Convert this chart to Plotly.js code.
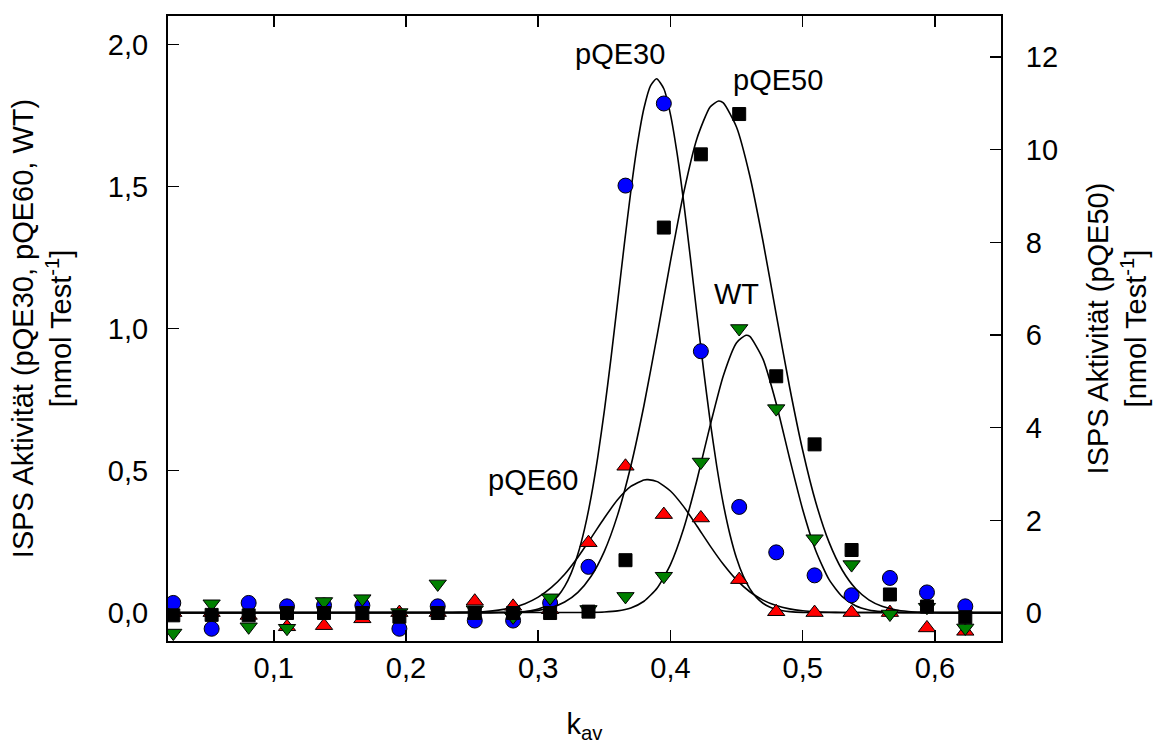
<!DOCTYPE html>
<html>
<head>
<meta charset="utf-8">
<script src="https://cdn.plot.ly/plotly-3.0.1.min.js"></script>
<style>html,body{margin:0;padding:0;background:#fff;}#chart{width:1155px;height:744px;}</style>
</head>
<body>
<div id="chart"></div>
<script>
// measured fraction positions (k_av)
const kav = [0.024, 0.053, 0.081, 0.110, 0.138, 0.167, 0.195, 0.224, 0.252, 0.281, 0.309,
             0.338, 0.366, 0.395, 0.423, 0.452, 0.480, 0.509, 0.537, 0.566, 0.594, 0.623];

// ISPS activity, left axis
const pQE30 = [0.034, -0.057, 0.034, 0.022, 0.025, 0.025, -0.057, 0.022, -0.028, -0.028, 0.034,
               0.161, 1.503, 1.792, 0.920, 0.372, 0.212, 0.131, 0.061, 0.122, 0.071, 0.022];
const pQE60 = [0.000, 0.000, -0.010, -0.050, -0.046, -0.022, 0.000, 0.000, 0.040, 0.022, 0.010,
               0.246, 0.515, 0.345, 0.333, 0.116, 0.003, 0.000, 0.000, 0.000, -0.054, -0.066];
const WT    = [-0.072, 0.031, -0.050, -0.055, 0.039, 0.049, 0.000, 0.101, 0.010, -0.015, 0.052,
               0.011, 0.057, 0.128, 0.530, 1.000, 0.718, 0.260, 0.169, -0.005, 0.019, -0.054];
// ISPS activity, right axis
const pQE50 = [-0.05, -0.04, -0.05, 0.00, 0.00, 0.00, -0.08, 0.00, 0.00, 0.00, 0.00,
               0.03, 1.14, 8.32, 9.90, 10.77, 5.11, 3.64, 1.36, 0.40, 0.14, -0.09];

// fitted curves
const fit30x = [0.02, 0.28, 0.285, 0.29, 0.295, 0.30, 0.305, 0.31, 0.315, 0.32, 0.325, 0.33, 0.335, 0.34, 0.345,
                0.35, 0.355, 0.36, 0.365, 0.37, 0.375, 0.38, 0.385, 0.3895, 0.395, 0.40, 0.405, 0.41, 0.415,
                0.42, 0.425, 0.43, 0.435, 0.44, 0.445, 0.45, 0.455, 0.46, 0.465, 0.47, 0.475, 0.48, 0.485,
                0.49, 0.50, 0.65];
const fit30y = [0, 0.001, 0.002, 0.0039, 0.0071, 0.0126, 0.0218, 0.0363, 0.0588, 0.0921, 0.140, 0.206, 0.294,
                0.407, 0.546, 0.710, 0.894, 1.092, 1.292, 1.482, 1.648, 1.776, 1.855, 1.879, 1.844, 1.754,
                1.617, 1.445, 1.252, 1.051, 0.856, 0.675, 0.516, 0.382, 0.275, 0.191, 0.129, 0.0844, 0.0535,
                0.0329, 0.0196, 0.0113, 0.0063, 0.0034, 0.0009, 0];

const fit50x = [0.02, 0.26, 0.27, 0.28, 0.29, 0.30, 0.31, 0.32, 0.33, 0.34, 0.35, 0.36, 0.37, 0.38, 0.39,
                0.40, 0.41, 0.42, 0.43, 0.4364, 0.44, 0.45, 0.46, 0.47, 0.48, 0.49, 0.50, 0.51, 0.52, 0.53,
                0.54, 0.55, 0.56, 0.57, 0.58, 0.59, 0.60, 0.61, 0.65];
const fit50y = [0, 0.0016, 0.0043, 0.0108, 0.0254, 0.0567, 0.119, 0.237, 0.446, 0.793, 1.332, 2.113, 3.167,
                4.485, 6.002, 7.590, 9.070, 10.239, 10.923, 11.05, 11.009, 10.485, 9.437, 8.024, 6.447, 4.895,
                3.512, 2.380, 1.524, 0.923, 0.528, 0.285, 0.146, 0.070, 0.032, 0.0138, 0.0056, 0.002, 0];

const fitWTx = [0.02, 0.33, 0.34, 0.35, 0.36, 0.37, 0.38, 0.39, 0.40, 0.41, 0.42, 0.43, 0.44, 0.45, 0.4571,
                0.46, 0.47, 0.48, 0.49, 0.50, 0.51, 0.52, 0.53, 0.54, 0.55, 0.56, 0.57, 0.58, 0.65];
const fitWTy = [0, 0.0002, 0.0006, 0.0021, 0.0061, 0.0165, 0.040, 0.0868, 0.169, 0.296, 0.466, 0.658, 0.834,
                0.950, 0.976, 0.972, 0.892, 0.736, 0.545, 0.363, 0.217, 0.116, 0.0561, 0.0243, 0.0094, 0.0033,
                0.001, 0.0003, 0];

const fit60x = [0.02, 0.22, 0.23, 0.24, 0.25, 0.26, 0.27, 0.28, 0.29, 0.30, 0.31, 0.32, 0.33, 0.34, 0.35,
                0.36, 0.37, 0.38, 0.383, 0.39, 0.40, 0.41, 0.42, 0.43, 0.44, 0.45, 0.46, 0.47, 0.48, 0.49,
                0.50, 0.51, 0.52, 0.53, 0.54, 0.65];
const fit60y = [0, 0.0001, 0.0003, 0.0008, 0.0019, 0.0041, 0.0087, 0.0170, 0.0314, 0.0544, 0.0885, 0.135,
                0.195, 0.263, 0.333, 0.397, 0.444, 0.467, 0.468, 0.461, 0.428, 0.373, 0.305, 0.235, 0.170,
                0.115, 0.0734, 0.0440, 0.0247, 0.0131, 0.0065, 0.0030, 0.0013, 0.0005, 0.0002, 0];

const leftTicks = [0, 0.5, 1.0, 1.5, 2.0];
const rightTicks = [0, 2, 4, 6, 8, 10, 12];
const xTicks = [0.1, 0.2, 0.3, 0.4, 0.5, 0.6];

const FONT = 'Liberation Sans, Arial, sans-serif';
const FS = 29;
const curveLine = {color: '#000000', width: 1.6, shape: 'spline', smoothing: 0.6};

const traces = [
  {x: fit60x, y: fit60y, mode: 'lines', line: curveLine, name: 'pQE60 fit', yaxis: 'y'},
  {x: fit30x, y: fit30y, mode: 'lines', line: curveLine, name: 'pQE30 fit', yaxis: 'y'},
  {x: fitWTx, y: fitWTy, mode: 'lines', line: curveLine, name: 'WT fit', yaxis: 'y'},
  {x: fit50x, y: fit50y, mode: 'lines', line: curveLine, name: 'pQE50 fit', yaxis: 'y2'},
  {x: kav, y: pQE60, mode: 'markers', name: 'pQE60', yaxis: 'y',
   marker: {symbol: 'triangle-up', size: 15, color: '#ff0000', line: {color: '#000', width: 1}}},
  {x: kav, y: pQE50, mode: 'markers', name: 'pQE50', yaxis: 'y2',
   marker: {symbol: 'square', size: 13, color: '#000000', line: {color: '#000', width: 1}}},
  {x: kav, y: pQE30, mode: 'markers', name: 'pQE30', yaxis: 'y',
   marker: {symbol: 'circle', size: 15, color: '#0000ff', line: {color: '#000', width: 1}}},
  {x: kav, y: WT, mode: 'markers', name: 'WT', yaxis: 'y',
   marker: {symbol: 'triangle-down', size: 15, color: '#008000', line: {color: '#000', width: 1}}}
];

const layout = {
  width: 1155, height: 744,
  margin: {l: 168, r: 154, t: 16, b: 103},
  paper_bgcolor: '#ffffff', plot_bgcolor: '#ffffff',
  showlegend: false,
  separators: ',.',
  font: {family: FONT, size: FS, color: '#000'},
  xaxis: {
    range: [0.02, 0.65], tickvals: xTicks, tickformat: '.1f',
    ticks: 'inside', ticklen: 11, tickwidth: 1.5, tickcolor: '#000',
    showline: true, linecolor: '#000', linewidth: 2, mirror: 'ticks',
    showgrid: false, zeroline: false, ticklabelstandoff: 0,
    title: {text: 'k<sub>av</sub>', standoff: 38, font: {size: FS}}
  },
  yaxis: {
    range: [-0.1, 2.1], tickvals: leftTicks, tickformat: '.1f',
    ticks: 'inside', ticklen: 11, tickwidth: 1.5, tickcolor: '#000',
    showline: true, linecolor: '#000', linewidth: 2,
    showgrid: false, zeroline: false, ticklabelstandoff: 12,
    title: {text: 'ISPS Aktivität (pQE30, pQE60, WT)<br>[nmol Test<sup>-1</sup>]', standoff: 28, font: {size: FS}}
  },
  yaxis2: {
    overlaying: 'y', side: 'right',
    range: [-0.604, 12.886], tickvals: rightTicks,
    ticks: 'inside', ticklen: 11, tickwidth: 1.5, tickcolor: '#000',
    showline: true, linecolor: '#000', linewidth: 2,
    showgrid: false, zeroline: false, ticklabelstandoff: 17,
    title: {text: 'ISPS Aktivität (pQE50)<br>[nmol Test<sup>-1</sup>]', standoff: 31, font: {size: FS}}
  },
  annotations: [
    {x: 0.362, y: 1.968, xref: 'x', yref: 'y', text: 'pQE30', showarrow: false, font: {size: FS}},
    {x: 0.4815, y: 1.873, xref: 'x', yref: 'y', text: 'pQE50', showarrow: false, font: {size: FS}},
    {x: 0.450, y: 1.123, xref: 'x', yref: 'y', text: 'WT', showarrow: false, font: {size: FS}},
    {x: 0.2963, y: 0.465, xref: 'x', yref: 'y', text: 'pQE60', showarrow: false, font: {size: FS}}
  ]
};

Plotly.newPlot('chart', traces, layout, {displayModeBar: false, staticPlot: true});
</script>
</body>
</html>
